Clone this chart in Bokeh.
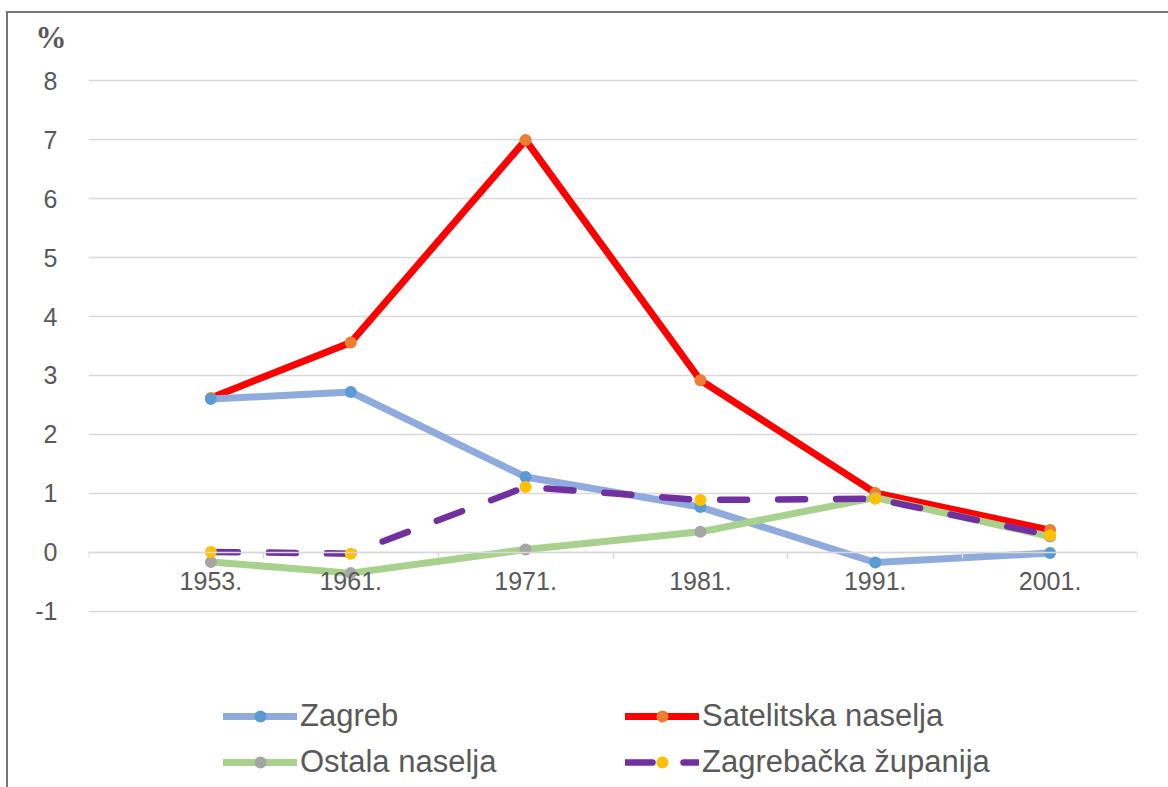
from bokeh.plotting import figure
from bokeh.models import Range1d, LinearAxis, FixedTicker, Legend, LegendItem, Title
from bokeh.embed import file_html
from bokeh.resources import INLINE

# ---- data ----
years = [1953, 1961, 1971, 1981, 1991, 2001]
year_labels = ["1953.", "1961.", "1971.", "1981.", "1991.", "2001."]
zagreb = [2.60, 2.72, 1.28, 0.77, -0.17, -0.01]
satelitska = [2.62, 3.56, 6.99, 2.92, 1.01, 0.38]
ostala = [-0.16, -0.35, 0.05, 0.35, 0.93, 0.27]
zupanija = [0.01, -0.02, 1.11, 0.89, 0.91, 0.29]
y_ticks = [-1, 0, 1, 2, 3, 4, 5, 6, 7, 8]
y_tick_labels = ["-1", "0", "1", "2", "3", "4", "5", "6", "7", "8"]
axis_tick_years = [1946, 1956, 1966, 1976, 1986, 1996, 2006]
series_names = ["Zagreb", "Satelitska naselja", "Ostala naselja", "Zagrebačka županija"]
y_unit = "%"

TXT = "#595959"
GRID = "#d9d9d9"
FONT = "Liberation Sans"
BORDER = "#767676"

# frame extends down to hold the legend; gridlines only at y_ticks
p = figure(width=1168, height=787,
           x_range=Range1d(1946, 2006), y_range=Range1d(-3.95, 8.17),
           output_backend="svg", toolbar_location=None,
           x_axis_type=None,
           min_border_left=88, min_border_right=31,
           min_border_top=70, min_border_bottom=2)
p.outline_line_color = None
p.background_fill_color = None
p.border_fill_color = None
p.styles = {
    "background-color": "white",
    "background-image": f"linear-gradient({BORDER}, {BORDER}), linear-gradient({BORDER}, {BORDER})",
    "background-size": "2px 100%, 100% 2px",
    "background-position": "6px 11px, 6px 11px",
    "background-repeat": "no-repeat",
}

# y axis
yt = FixedTicker(ticks=y_ticks)
p.yaxis.ticker = yt
p.yaxis.major_label_overrides = {t: l for t, l in zip(y_ticks, y_tick_labels)}
p.yaxis.axis_line_color = None
p.yaxis.major_tick_line_color = None
p.yaxis.minor_tick_line_color = None
p.yaxis.major_tick_out = 0
p.yaxis.major_label_standoff = 31
p.yaxis.major_label_text_font = FONT
p.yaxis.major_label_text_font_size = "25px"
p.yaxis.major_label_text_color = TXT
p.ygrid.ticker = yt
p.ygrid.grid_line_color = GRID
p.ygrid.grid_line_width = 1.5

# x axis (line + tick marks) at y=0
ax_ticks = LinearAxis(fixed_location=0, ticker=FixedTicker(ticks=axis_tick_years),
                      axis_line_color=GRID, axis_line_width=1.5,
                      major_tick_line_color=GRID, major_tick_line_width=1.5,
                      major_tick_in=0, major_tick_out=6,
                      minor_tick_line_color=None,
                      major_label_text_color=None, major_label_text_font_size="1px")
p.add_layout(ax_ticks, "below")

ax_labels = LinearAxis(fixed_location=0, ticker=FixedTicker(ticks=years),
                       major_label_overrides={y: l for y, l in zip(years, year_labels)},
                       axis_line_color=None, major_tick_line_color=None,
                       minor_tick_line_color=None, major_tick_out=0,
                       major_label_standoff=20,
                       major_label_text_font=FONT, major_label_text_font_size="25px",
                       major_label_text_color=TXT)
p.add_layout(ax_labels, "below")

# series
LW = 7
MS = 12
l_red = p.line(years, satelitska, line_color="#FF0000", line_width=LW, line_join="round", line_cap="round")
m_red = p.scatter(years, satelitska, size=MS, fill_color="#ED7D31", line_color=None)
l_blue = p.line(years, zagreb, line_color="#8FAADC", line_width=LW, line_join="round", line_cap="round")
m_blue = p.scatter(years, zagreb, size=MS, fill_color="#5B9BD5", line_color=None)
l_green = p.line(years, ostala, line_color="#A9D18E", line_width=LW, line_join="round", line_cap="round")
m_green = p.scatter(years, ostala, size=MS, fill_color="#A5A5A5", line_color=None)
l_pur = p.line(years, zupanija, line_color="#7030A0", line_width=LW - 0.5, line_dash="27 31",
               line_join="round", line_cap="round")
m_pur = p.scatter(years, zupanija, size=MS, fill_color="#FFC000", line_color=None)


def make_legend(items, loc):
    return Legend(items=items, location=loc, orientation="vertical",
                  border_line_color=None, background_fill_alpha=0,
                  padding=0, margin=0, spacing=10,
                  glyph_width=74, glyph_height=30, label_height=30,
                  label_standoff=3,
                  label_text_font=FONT, label_text_font_size="31px",
                  label_text_color=TXT)


leg1 = make_legend([LegendItem(label=series_names[0], renderers=[l_blue, m_blue]),
                    LegendItem(label=series_names[2], renderers=[l_green, m_green])], (135, 5))
leg2 = make_legend([LegendItem(label=series_names[1], renderers=[l_red, m_red]),
                    LegendItem(label=series_names[3], renderers=[l_pur, m_pur])], (537, 5))
p.add_layout(leg1)
p.add_layout(leg2)

p.add_layout(Title(text=y_unit, align="left", offset=-53, standoff=31,
                   text_font="Liberation Serif", text_font_style="bold",
                   text_font_size="31px", text_color=TXT), "above")

open("out.html", "w").write(file_html(p, INLINE))
